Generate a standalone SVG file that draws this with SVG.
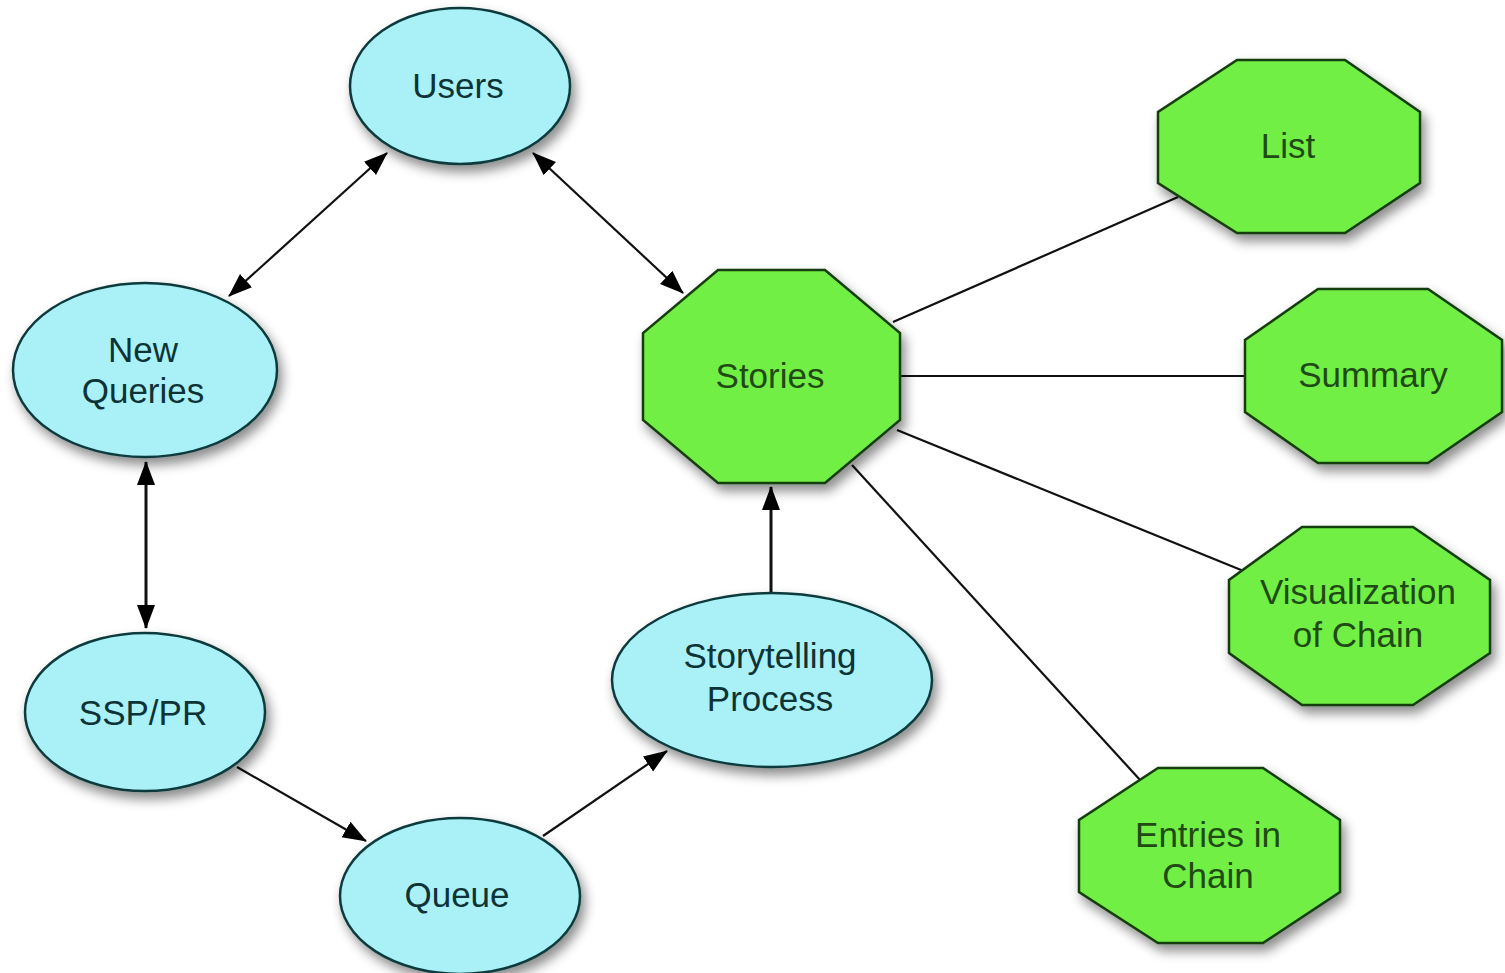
<svg xmlns="http://www.w3.org/2000/svg" width="1505" height="973" viewBox="0 0 1505 973">
<style>
.ell{fill:#a9f1f6;stroke:#0d3b3d;stroke-width:2.5}
.oct{fill:#72ef44;stroke:#173d0c;stroke-width:2.5}
.te{font-family:"Liberation Sans",Arial,sans-serif;font-size:35px;fill:#0d3336;text-anchor:middle}
.to{font-family:"Liberation Sans",Arial,sans-serif;font-size:35px;fill:#1f4a14;text-anchor:middle}
.c{stroke:#111;stroke-width:2.2;fill:none}
.cv{stroke:#111;stroke-width:3;fill:none}
</style>
<defs>
<filter id="sh" x="-20%" y="-20%" width="150%" height="150%">
<feDropShadow dx="4" dy="7" stdDeviation="6" flood-color="#000" flood-opacity="0.45"/>
</filter>
<marker id="ah" markerUnits="userSpaceOnUse" markerWidth="24" markerHeight="20" refX="23" refY="9" orient="auto-start-reverse" viewBox="0 0 24 18">
<path d="M0,0 L24,9 L0,18 z" fill="#000"/>
</marker>
</defs>
<rect width="1505" height="973" fill="#fff"/>
<g id="connectors">
<line class="c" x1="387" y1="153" x2="229" y2="296" marker-start="url(#ah)" marker-end="url(#ah)"/>
<line class="c" x1="533" y1="153" x2="683" y2="293" marker-start="url(#ah)" marker-end="url(#ah)"/>
<line class="cv" x1="146" y1="462" x2="146" y2="628" marker-start="url(#ah)" marker-end="url(#ah)"/>
<line class="c" x1="237" y1="767" x2="366" y2="841" marker-end="url(#ah)"/>
<line class="c" x1="543" y1="836" x2="667" y2="751" marker-end="url(#ah)"/>
<line class="cv" x1="771" y1="592" x2="771" y2="487" marker-end="url(#ah)"/>
<line class="c" x1="893" y1="322" x2="1178" y2="197"/>
<line class="c" x1="900" y1="376" x2="1245" y2="376"/>
<line class="c" x1="897" y1="430" x2="1246" y2="572"/>
<line class="c" x1="852" y1="465" x2="1141" y2="781"/>
</g>
<g id="users">
<ellipse class="ell" cx="460" cy="86" rx="110" ry="78" filter="url(#sh)"/>
<text class="te" x="458" y="98">Users</text>
</g>
<g id="new-queries">
<ellipse class="ell" cx="145" cy="370" rx="132" ry="87" filter="url(#sh)"/>
<text class="te" x="143" y="362">New</text>
<text class="te" x="143" y="403">Queries</text>
</g>
<g id="ssp-pr">
<ellipse class="ell" cx="145" cy="712" rx="120" ry="79" filter="url(#sh)"/>
<text class="te" x="143" y="725">SSP/PR</text>
</g>
<g id="queue">
<ellipse class="ell" cx="460" cy="896" rx="120" ry="78" filter="url(#sh)"/>
<text class="te" x="457" y="907">Queue</text>
</g>
<g id="storytelling">
<ellipse class="ell" cx="772" cy="680" rx="160" ry="87" filter="url(#sh)"/>
<text class="te" x="770" y="668">Storytelling</text>
<text class="te" x="770" y="711">Process</text>
</g>
<g id="stories">
<polygon class="oct" points="718,270 825,270 900,333 900,420 825,483 718,483 643,420 643,333" filter="url(#sh)"/>
<text class="to" x="770" y="388">Stories</text>
</g>
<g id="list">
<polygon class="oct" points="1237,60 1345,60 1420,112 1420,183 1345,233 1237,233 1158,183 1158,112" filter="url(#sh)"/>
<text class="to" x="1288" y="158">List</text>
</g>
<g id="summary">
<polygon class="oct" points="1318,289 1428,289 1502,340 1502,412 1428,463 1318,463 1245,412 1245,340" filter="url(#sh)"/>
<text class="to" x="1373" y="387">Summary</text>
</g>
<g id="visualization">
<polygon class="oct" points="1302,527 1413,527 1490,580 1490,653 1413,705 1302,705 1229,653 1229,580" filter="url(#sh)"/>
<text class="to" x="1358" y="604">Visualization</text>
<text class="to" x="1358" y="647">of Chain</text>
</g>
<g id="entries">
<polygon class="oct" points="1158,768 1263,768 1340,820 1340,892 1263,943 1158,943 1079,892 1079,820" filter="url(#sh)"/>
<text class="to" x="1208" y="847">Entries in</text>
<text class="to" x="1208" y="888">Chain</text>
</g>
</svg>
